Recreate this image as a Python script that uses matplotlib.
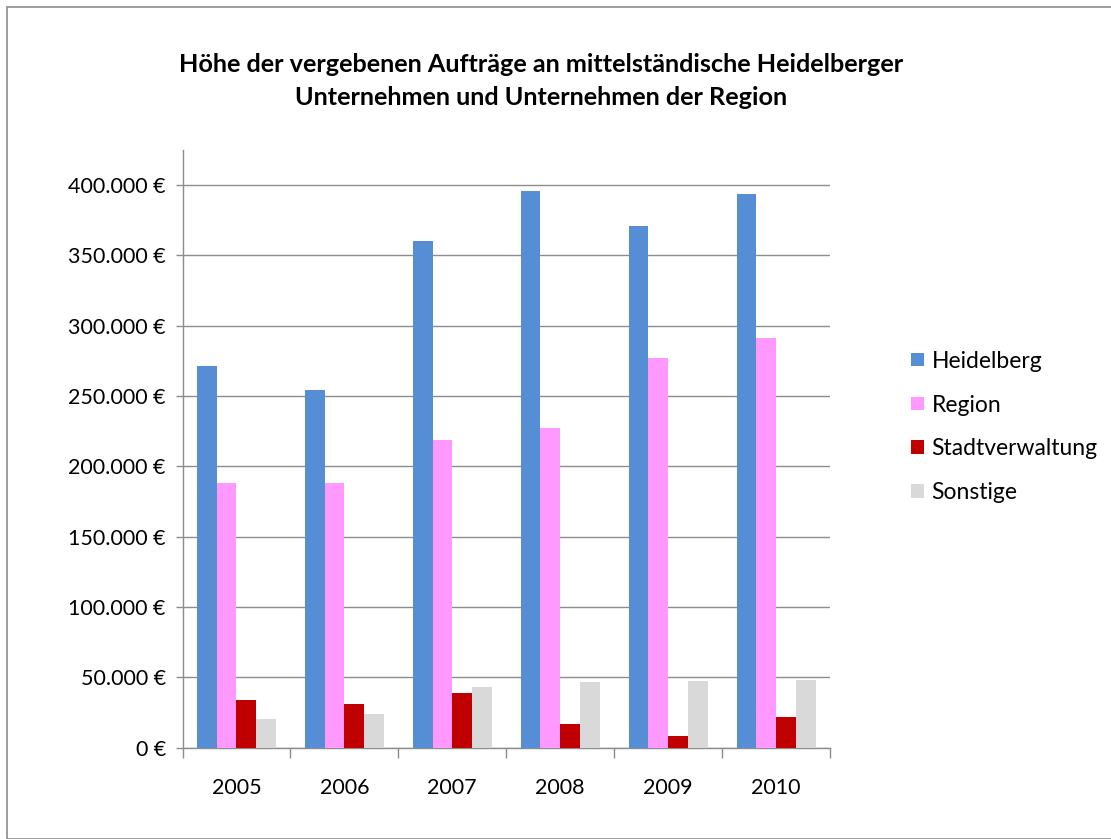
import matplotlib
matplotlib.use("Agg")
import matplotlib.pyplot as plt
from matplotlib.ticker import FuncFormatter, FixedLocator
from matplotlib.patches import Rectangle
import numpy as np

plt.rcParams['font.family'] = ['Lato', 'DejaVu Sans']

years = ["2005", "2006", "2007", "2008", "2009", "2010"]
series_names = ["Heidelberg", "Region", "Stadtverwaltung", "Sonstige"]
heidelberg = [271500, 254500, 360500, 396000, 371000, 393500]
region = [188000, 188000, 218500, 227500, 277000, 291000]
stadtverwaltung = [33600, 30800, 38600, 16600, 8300, 21800]
sonstige = [20100, 23900, 43100, 46700, 47600, 48100]
colors = ["#558ED5", "#FF99FF", "#C00000", "#D9D9D9"]
yticks = [0, 50000, 100000, 150000, 200000, 250000, 300000, 350000, 400000]
title = "Höhe der vergebenen Aufträge an mittelständische Heidelberger\nUnternehmen und Unternehmen der Region"

fig = plt.figure(figsize=(11.11, 8.39), dpi=100)
fig.patches.append(Rectangle((7/1111, 0), 1.1, 1 - 7/839, transform=fig.transFigure,
                             fill=False, edgecolor="#8c8c8c", linewidth=1.2))

ax = fig.add_axes([182.5/1111, 1 - 747.6/839, (830 - 182.5)/1111, (747.6 - 150)/839])

data = [heidelberg, region, stadtverwaltung, sonstige]
x = np.arange(len(years))
bw = 0.183
for i, (vals, name, c) in enumerate(zip(data, series_names, colors)):
    ax.bar(x - 1.5*bw + i*bw, vals, width=bw, color=c, label=name, zorder=3)

ax.set_xlim(-0.5, len(years) - 0.5)
ax.set_ylim(0, 425000)
ax.yaxis.set_major_locator(FixedLocator(yticks))
ax.yaxis.set_major_formatter(FuncFormatter(lambda v, p: ("{:,.0f}".format(v).replace(",", ".")) + " €"))
ax.grid(axis='y', color="#8c8c8c", linewidth=1.0, zorder=0)
ax.set_axisbelow(True)

ax.set_xticks(x)
ax.set_xticklabels(years)
ax.set_xticks(np.arange(-0.5, len(years)), minor=True)
ax.tick_params(axis='x', which='major', length=0, pad=22, labelsize=15.5)
ax.tick_params(axis='x', which='minor', length=7, color="#8c8c8c", width=1.0)
ax.tick_params(axis='y', which='major', length=5, color="#8c8c8c", width=1.0, labelsize=15.5, pad=7)

for s in ['top', 'right']:
    ax.spines[s].set_visible(False)
for s in ['left', 'bottom']:
    ax.spines[s].set_color("#8c8c8c")
    ax.spines[s].set_linewidth(1.0)

fig.text(541/1111, 1 - 81/839, title, ha='center', va='center', fontsize=18.2,
         fontweight='bold', linespacing=1.55)

leg = ax.legend(loc='center left', bbox_to_anchor=(911/1111, 1 - 427/839),
                bbox_transform=fig.transFigure, frameon=False, fontsize=16.5,
                borderaxespad=0, borderpad=0,
                handlelength=0.55, handleheight=0.55, handletextpad=0.35, labelspacing=1.0)

fig.savefig("out.png", dpi=100)
